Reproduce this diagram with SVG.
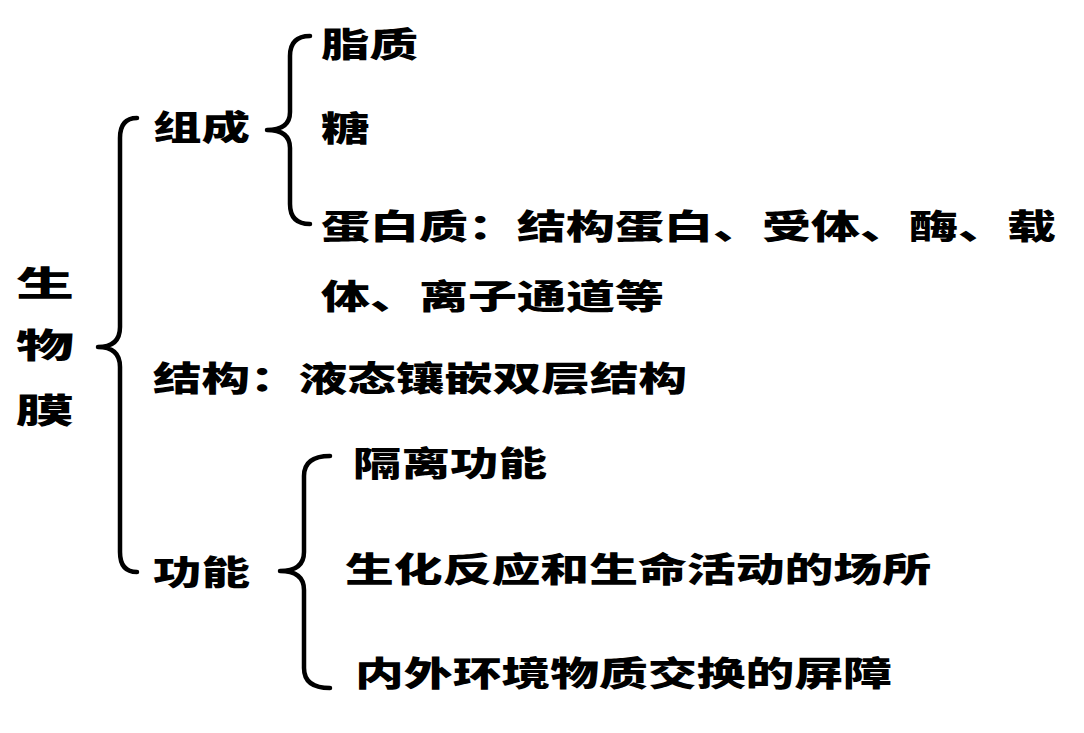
<svg xmlns="http://www.w3.org/2000/svg" width="1084" height="733" viewBox="0 0 1084 733">
<style>
text{font-family:"Noto Sans CJK SC","Noto Sans CJK TC",sans-serif;font-weight:900;font-size:34px;fill:#000}
.brace{fill:none;stroke:#000;stroke-width:4.5;stroke-linecap:round;stroke-linejoin:round}
</style>
<rect width="1084" height="733" fill="#fff"/>
<g id="connectors">
<path class="brace" d="M137,118 Q120,118 120,138 L120,327 Q120,347 98,347 Q120,347 120,367 L120,552 Q120,572 137,572"/>
<path class="brace" d="M310,36 Q290,36 290,56 L290,112 Q290,130 267,130 Q290,130 290,148 L290,204 Q290,224 310,224"/>
<path class="brace" d="M330,456 Q304,456 304,476 L304,552 Q304,571 280,571 Q304,571 304,590 L304,668 Q304,688 330,688"/>
</g>
<g id="root">
<text x="16" y="296" font-size="36" textLength="58" lengthAdjust="spacingAndGlyphs">生</text>
<text x="16" y="358" font-size="36" textLength="58" lengthAdjust="spacingAndGlyphs">物</text>
<text x="16" y="423" font-size="36" textLength="58" lengthAdjust="spacingAndGlyphs">膜</text>
</g>
<g id="zucheng"><text x="153" y="140" textLength="97" lengthAdjust="spacingAndGlyphs">组成</text></g>
<g id="zhizhi"><text x="321" y="57" textLength="97" lengthAdjust="spacingAndGlyphs">脂质</text></g>
<g id="tang"><text x="321" y="141" textLength="48.5" lengthAdjust="spacingAndGlyphs">糖</text></g>
<g id="danbaizhi">
<text x="321" y="239" textLength="735" lengthAdjust="spacingAndGlyphs">蛋白质：结构蛋白、受体、酶、载</text>
<text x="321" y="309" textLength="343" lengthAdjust="spacingAndGlyphs">体、离子通道等</text>
</g>
<g id="jiegou"><text x="153" y="391" textLength="534" lengthAdjust="spacingAndGlyphs">结构：液态镶嵌双层结构</text></g>
<g id="gongneng"><text x="153" y="585" textLength="97" lengthAdjust="spacingAndGlyphs">功能</text></g>
<g id="geli"><text x="353" y="476" textLength="194" lengthAdjust="spacingAndGlyphs">隔离功能</text></g>
<g id="changsuo"><text x="345" y="582" textLength="586" lengthAdjust="spacingAndGlyphs">生化反应和生命活动的场所</text></g>
<g id="pingzhang"><text x="355" y="686" textLength="537" lengthAdjust="spacingAndGlyphs">内外环境物质交换的屏障</text></g>
</svg>
